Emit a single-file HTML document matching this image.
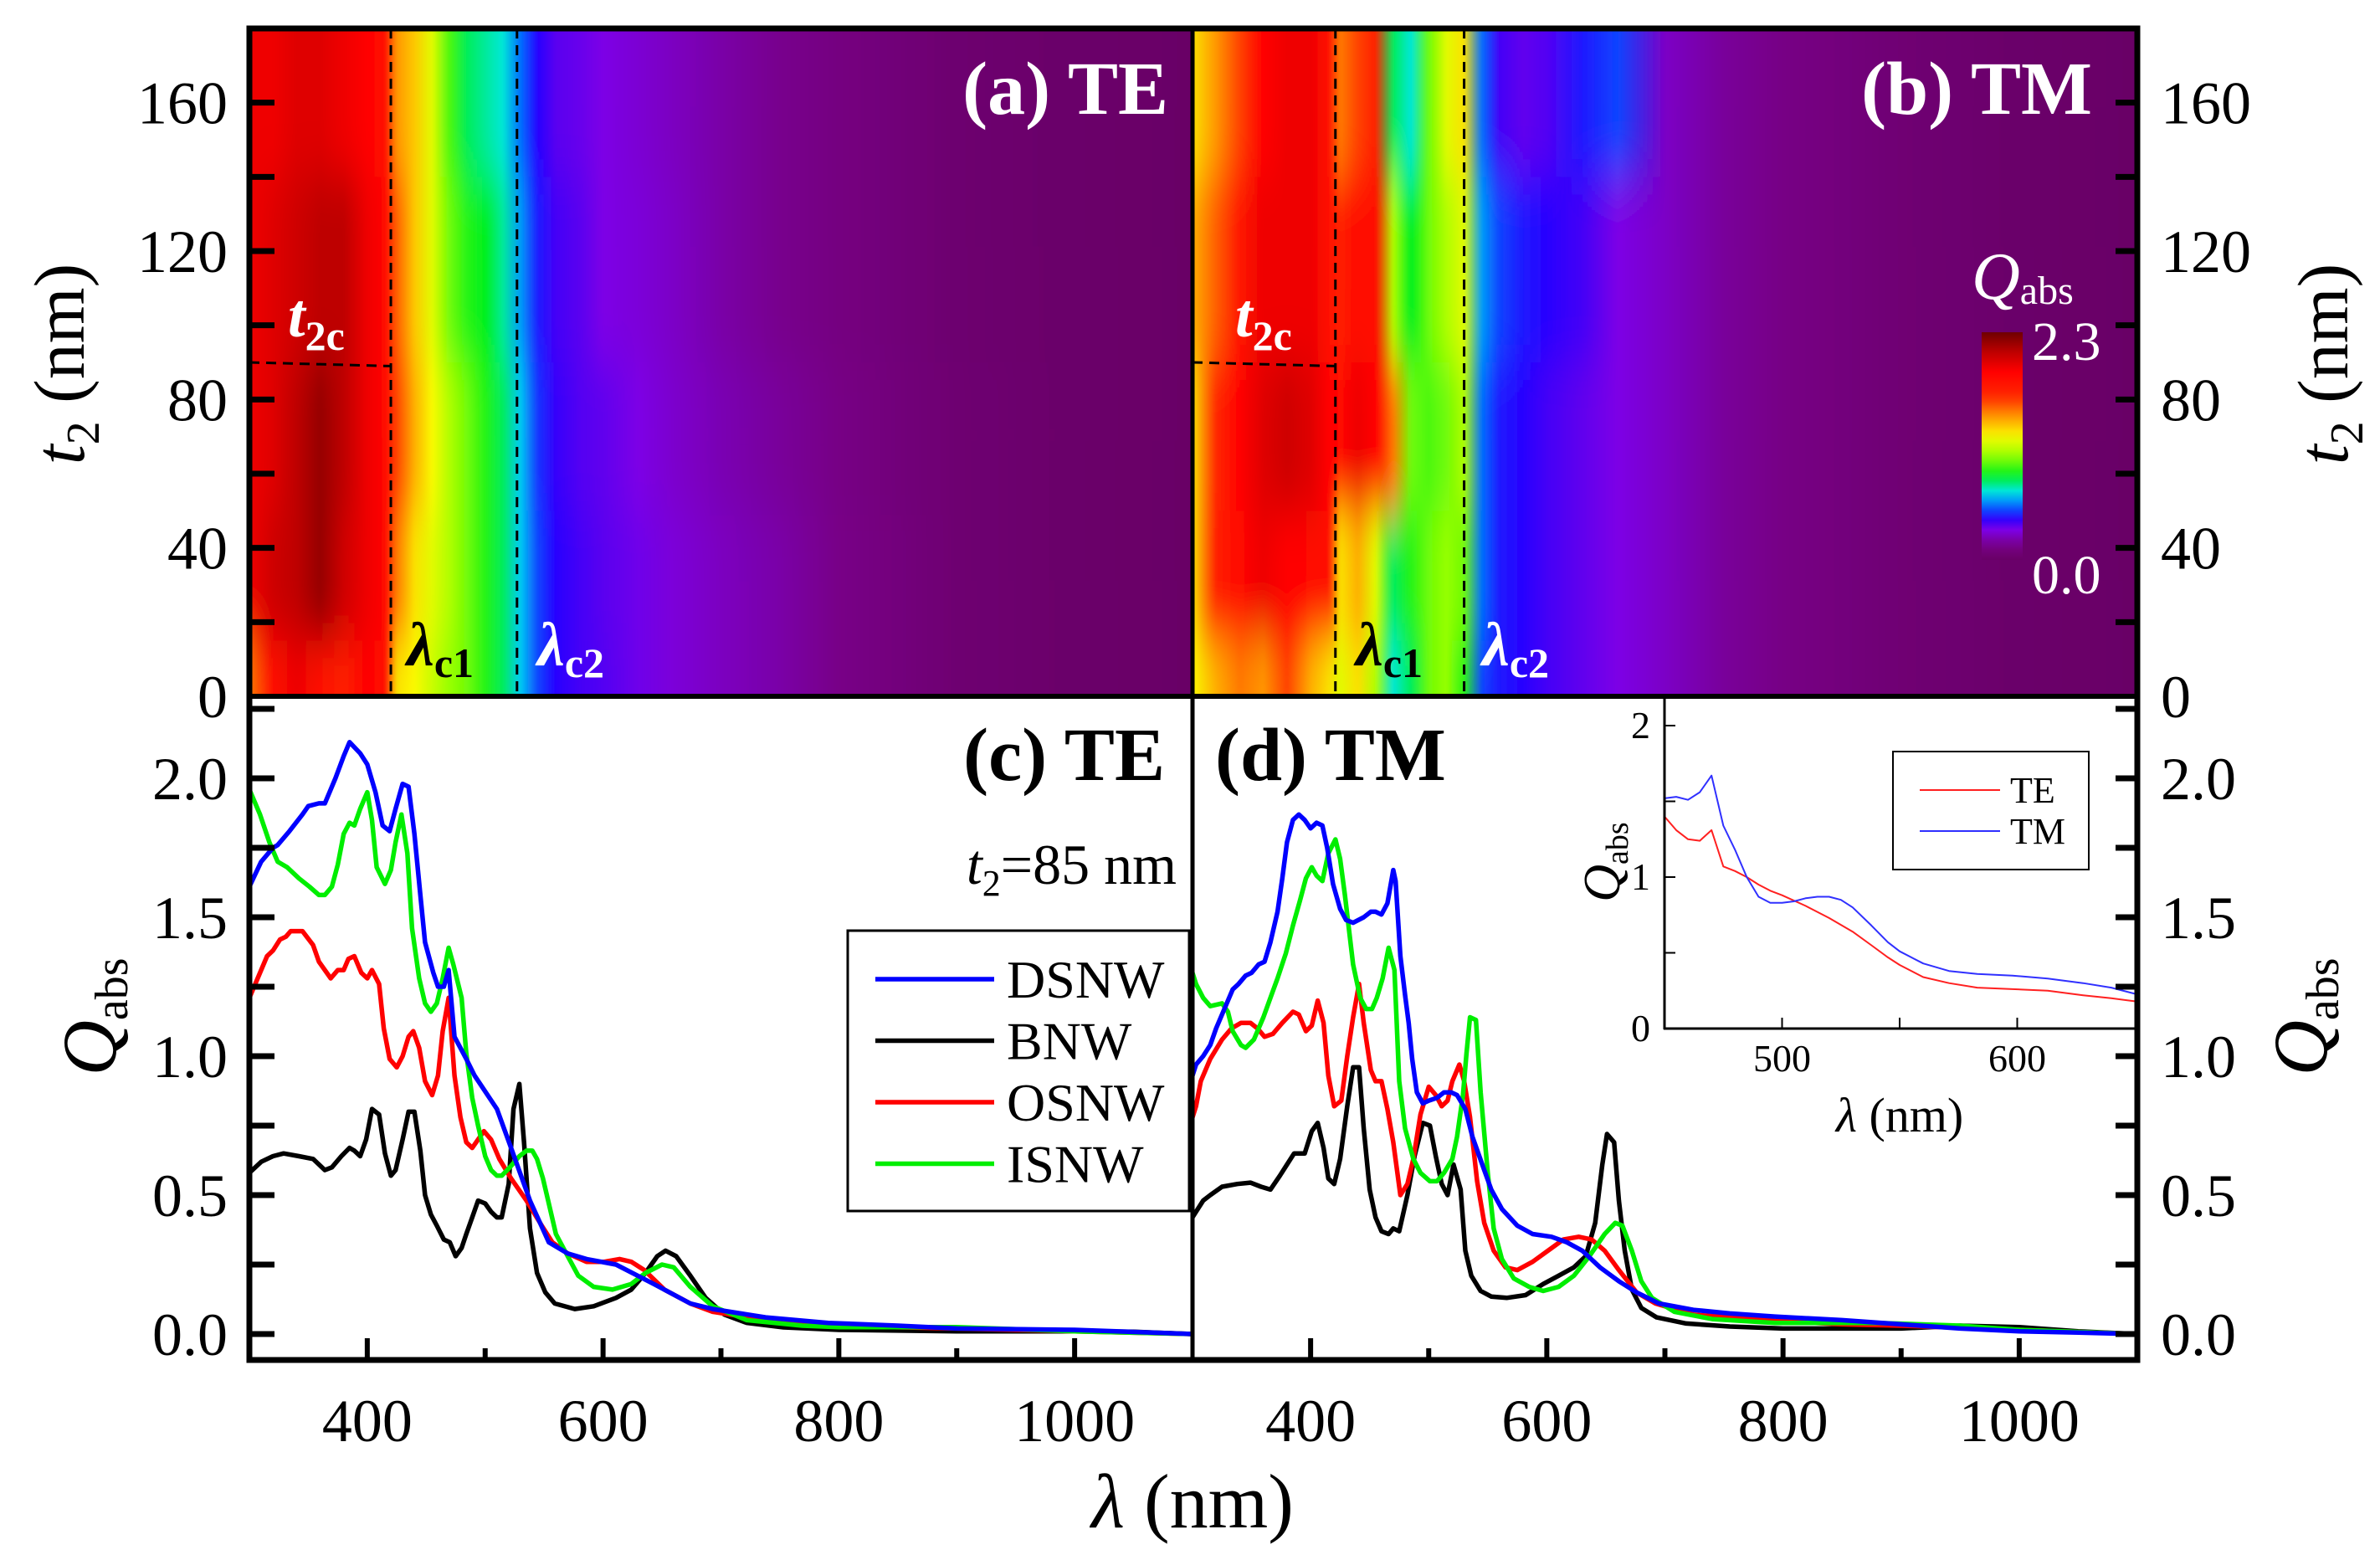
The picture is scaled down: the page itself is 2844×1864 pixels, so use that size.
<!DOCTYPE html>
<html><head><meta charset="utf-8"><style>
html,body{margin:0;padding:0;background:#fff;}
svg{display:block;}
svg text{font-family:"Liberation Serif","Times New Roman",serif;}
</style></head><body>
<svg id="fig" width="2844" height="1864" viewBox="0 0 2844 1864" xmlns="http://www.w3.org/2000/svg" font-family="Liberation Serif, serif">
<defs id="defs"></defs>
<g id="heat"></g>
<g id="lines"></g>
<g id="inset"></g>
<g id="frame"></g>
<g id="labels"></g>
</svg>
<script>
// ---------- heatmap data ----------
const heatLam = [300,320,340,360,380,400,415,425,440,455,470,485,500,515,530,545,560,580,600,630,660,700,750,800,850,900,1000,1100];
const heatTBands = [0,15,50,90,140,180];
const heatTE_r0 = [1.5,1.8,1.95,1.8,1.7,1.9,1.8,1.3,1.25,1.15,1.05,1.0,0.9,0.8,0.65,0.5,0.42,0.38,0.36,0.32,0.28,0.24,0.2,0.15,0.1,0.05,0.02,0.0];
const heatTE_r1 = [1.95,2.05,2.1,2.2,2.05,1.95,1.85,1.5,1.3,1.2,1.1,1.0,0.9,0.8,0.65,0.5,0.42,0.38,0.35,0.32,0.28,0.24,0.2,0.15,0.1,0.05,0.02,0];
const heatTE_r2 = [1.95,2.0,2.1,2.2,2.1,1.95,1.85,1.6,1.4,1.25,1.1,1.0,0.9,0.8,0.65,0.48,0.4,0.36,0.34,0.3,0.26,0.22,0.18,0.14,0.09,0.05,0.02,0];
const heatTE_r3 = [1.95,2.0,2.05,2.1,2.1,1.95,1.85,1.55,1.35,1.2,1.0,0.9,0.85,0.75,0.6,0.45,0.38,0.35,0.3,0.28,0.25,0.2,0.16,0.12,0.08,0.04,0.02,0];
const heatTE_r4 = [1.95,1.95,2.0,2.0,1.95,1.9,1.8,1.45,1.35,1.2,0.95,0.8,0.75,0.7,0.55,0.42,0.35,0.33,0.3,0.27,0.24,0.2,0.16,0.12,0.08,0.04,0.02,0];
const heatTM_r0 = [1.25,1.4,1.5,1.45,1.6,1.4,1.3,1.2,1.3,1.1,0.7,0.8,1.0,1.05,0.9,0.5,0.45,0.42,0.38,0.34,0.3,0.25,0.18,0.14,0.1,0.06,0.02,0];
const heatTM_r1 = [1.3,1.7,1.85,1.95,1.9,1.85,1.8,1.3,1.4,1.2,0.8,0.9,1.0,1.05,1.0,0.55,0.45,0.42,0.38,0.34,0.3,0.25,0.18,0.14,0.1,0.06,0.02,0];
const heatTM_r2 = [1.3,1.65,1.9,2.0,2.05,2.0,1.9,1.85,1.95,1.9,1.5,1.0,0.95,1.0,1.1,0.55,0.45,0.42,0.38,0.34,0.3,0.25,0.18,0.14,0.1,0.06,0.02,0];
const heatTM_r3 = [1.4,1.55,1.75,1.95,1.95,1.95,1.8,1.7,1.85,1.85,1.1,0.85,1.0,1.1,1.2,0.6,0.5,0.45,0.42,0.38,0.3,0.25,0.18,0.14,0.1,0.06,0.02,0];
const heatTM_r4 = [1.3,1.45,1.6,1.9,1.95,1.95,1.8,1.5,1.6,1.7,0.8,0.7,1.0,1.2,1.3,0.55,0.38,0.34,0.36,0.45,0.5,0.25,0.18,0.14,0.1,0.06,0.02,0];
const tTicks = [0,40,80,120,160];
// ---------- panel (c) TE ----------
const teLamD = [300,310,320,324,334,345,350,359,364,373,380,385,394,400,407,413,419,424,430,435,440,445,449,456,460,465,469,474,484,491,510,522,538,554,570,586,611,643,674,693,738,791,850,900,1000,1100];
const teQD = [1.61,1.70,1.75,1.76,1.81,1.87,1.90,1.91,1.91,2.0,2.08,2.13,2.09,2.05,1.95,1.83,1.81,1.89,1.98,1.97,1.80,1.58,1.41,1.30,1.25,1.25,1.31,1.07,0.99,0.93,0.81,0.67,0.48,0.33,0.29,0.27,0.25,0.18,0.11,0.09,0.06,0.04,0.03,0.02,0.015,0.0];
const teLamI = [300,309,317,324,332,342,351,359,364,370,375,380,385,389,394,400,404,408,415,420,424,429,434,438,444,449,454,459,464,469,473,480,484,489,494,500,505,510,514,521,529,535,540,544,549,554,560,570,579,592,608,624,636,650,660,674,693,722,769,800,900,1000,1100];
const teQI = [1.96,1.87,1.77,1.70,1.68,1.64,1.61,1.58,1.58,1.61,1.69,1.80,1.84,1.83,1.89,1.95,1.85,1.68,1.62,1.67,1.77,1.87,1.73,1.46,1.28,1.19,1.16,1.19,1.28,1.39,1.33,1.21,1.01,0.85,0.75,0.64,0.59,0.57,0.57,0.60,0.64,0.66,0.66,0.63,0.56,0.47,0.36,0.28,0.21,0.17,0.16,0.18,0.22,0.25,0.24,0.17,0.10,0.05,0.03,0.025,0.025,0.01,0];
const teLamO = [300,307,315,320,326,331,335,345,354,359,369,375,380,384,389,395,400,404,410,414,419,425,430,435,439,444,449,455,460,464,469,474,479,484,489,494,499,505,512,522,535,548,557,570,586,601,614,624,635,652,674,693,738,791,900,1000,1100];
const teQO = [1.21,1.28,1.36,1.38,1.42,1.43,1.45,1.45,1.40,1.34,1.28,1.31,1.31,1.35,1.36,1.30,1.28,1.31,1.26,1.10,0.99,0.96,1.00,1.07,1.09,1.03,0.91,0.86,0.93,1.09,1.21,0.93,0.78,0.69,0.67,0.70,0.73,0.70,0.63,0.56,0.48,0.39,0.33,0.29,0.26,0.26,0.27,0.26,0.23,0.16,0.11,0.08,0.05,0.03,0.02,0.01,0];
const teLamB = [300,310,320,329,342,354,364,370,378,385,389,394,399,404,410,415,420,424,430,435,440,445,449,454,459,465,470,475,480,484,489,494,500,505,510,514,520,524,529,533,538,544,551,559,576,592,611,624,636,646,653,662,674,687,703,722,753,800,900,1000,1050,1100];
const teQB = [0.58,0.62,0.64,0.65,0.64,0.63,0.59,0.60,0.64,0.67,0.66,0.64,0.70,0.81,0.79,0.65,0.57,0.59,0.70,0.80,0.80,0.66,0.50,0.43,0.39,0.34,0.33,0.28,0.31,0.36,0.42,0.48,0.47,0.44,0.42,0.42,0.54,0.81,0.90,0.69,0.38,0.22,0.15,0.11,0.09,0.10,0.13,0.16,0.22,0.28,0.30,0.28,0.21,0.13,0.07,0.04,0.024,0.015,0.01,0.01,0.008,0];
// ---------- panel (d) TM ----------
const tmLamD = [300,303,309,315,320,327,334,339,345,350,356,361,366,372,376,380,385,390,395,400,405,410,414,419,425,430,436,445,451,455,460,465,470,472,476,480,483,486,490,495,500,507,513,519,524,531,537,547,553,562,575,588,604,617,630,645,661,676,695,724,755,793,850,900,950,1000,1050,1100];
const tmQD = [0.93,0.97,1.00,1.04,1.10,1.17,1.24,1.26,1.29,1.30,1.33,1.34,1.41,1.52,1.64,1.77,1.85,1.87,1.85,1.82,1.84,1.83,1.75,1.62,1.53,1.49,1.48,1.50,1.52,1.52,1.51,1.55,1.67,1.63,1.36,1.22,1.12,0.99,0.87,0.83,0.84,0.85,0.87,0.87,0.86,0.81,0.71,0.59,0.52,0.45,0.39,0.36,0.35,0.33,0.30,0.24,0.19,0.15,0.11,0.087,0.074,0.063,0.05,0.035,0.02,0.01,0.005,0];
const tmLamI = [300,303,309,315,325,330,334,341,345,352,360,366,372,379,385,391,396,401,405,410,415,421,425,429,436,442,447,452,456,461,466,471,475,480,487,493,501,507,513,520,524,529,532,535,540,544,550,555,562,572,585,597,610,623,636,649,658,664,672,680,689,708,740,793,850,880,950,1000,1100];
const tmQI = [1.30,1.26,1.21,1.18,1.19,1.16,1.09,1.04,1.03,1.06,1.14,1.21,1.28,1.37,1.47,1.56,1.64,1.68,1.65,1.63,1.73,1.78,1.71,1.58,1.33,1.21,1.17,1.17,1.21,1.28,1.39,1.31,0.91,0.74,0.63,0.58,0.55,0.55,0.58,0.63,0.71,0.86,1.01,1.14,1.13,0.87,0.58,0.38,0.27,0.20,0.17,0.155,0.17,0.21,0.28,0.36,0.40,0.39,0.30,0.19,0.13,0.08,0.054,0.04,0.04,0.04,0.03,0.015,0];
const tmLamO = [300,303,307,315,325,333,341,349,355,361,368,376,385,390,396,401,406,411,415,420,426,431,436,441,445,451,455,460,465,470,476,482,487,493,500,506,511,516,520,526,530,535,541,547,555,565,575,588,601,614,627,638,649,661,676,692,724,793,850,900,1000,1100];
const tmQO = [0.78,0.82,0.91,0.99,1.06,1.10,1.12,1.12,1.10,1.07,1.08,1.12,1.16,1.15,1.09,1.11,1.20,1.12,0.93,0.82,0.84,1.00,1.14,1.26,1.12,0.95,0.91,0.91,0.81,0.69,0.50,0.54,0.63,0.79,0.89,0.86,0.82,0.84,0.91,0.97,0.91,0.78,0.55,0.40,0.30,0.24,0.23,0.26,0.30,0.34,0.35,0.34,0.30,0.23,0.15,0.11,0.07,0.047,0.035,0.03,0.015,0];
const tmLamB = [300,303,309,315,325,338,349,358,366,374,380,386,395,401,406,411,415,420,425,431,436,441,445,450,455,460,466,470,475,482,488,495,501,506,511,516,521,527,531,536,544,553,566,582,597,610,623,633,641,647,651,657,661,666,672,680,693,718,755,800,900,950,1000,1050,1100];
const tmQB = [0.42,0.44,0.48,0.50,0.53,0.54,0.545,0.53,0.52,0.57,0.61,0.65,0.65,0.73,0.76,0.67,0.56,0.54,0.63,0.82,0.96,0.96,0.74,0.52,0.42,0.37,0.36,0.38,0.37,0.50,0.64,0.76,0.75,0.64,0.54,0.50,0.61,0.52,0.30,0.21,0.155,0.135,0.13,0.14,0.18,0.21,0.24,0.28,0.40,0.61,0.72,0.69,0.48,0.30,0.16,0.094,0.06,0.038,0.027,0.02,0.02,0.03,0.025,0.01,0];
const qTicks = [0,0.5,1.0,1.5,2.0];
const qTickLabels = ["0.0","0.5","1.0","1.5","2.0"];
const lamTicks = [400,600,800,1000];
// ---------- inset ----------
const inLamTM = [450,455,460,465,470,475,480,485,490,495,500,505,510,515,520,525,530,538,545,550,560,571,583,598,613,628,640,650];
const inQTM = [1.52,1.53,1.51,1.56,1.67,1.34,1.18,1.0,0.87,0.83,0.83,0.84,0.86,0.87,0.87,0.85,0.80,0.68,0.57,0.51,0.43,0.38,0.36,0.35,0.33,0.30,0.27,0.23];
const inLamTE = [450,455,460,465,470,475,480,485,490,495,500,510,520,530,538,545,550,560,571,583,598,613,628,640,650];
const inQTE = [1.40,1.31,1.25,1.24,1.31,1.07,1.04,1.0,0.95,0.91,0.88,0.81,0.73,0.64,0.55,0.47,0.42,0.34,0.30,0.27,0.26,0.25,0.22,0.20,0.18];
const inQTicks = [0,1,2];
const inLamTicks = [500,600];

// ---------- geometry ----------
const XL=298, XM=1425, XR=2554, YT=34, YM=832, YB=1625;
const NS="http://www.w3.org/2000/svg";
function xA(l){return XL+(l-300)*(XM-XL)/800;}
function xB(l){return XM+(l-300)*(XR-XM)/800;}
function yT(t){return YM-t*(YM-YT)/180;}
function yQ(q){return 1594-q*332;}
function ix(l){return 1989+(l-450)*2.81;}
function iy(q){return 1229-q*181;}
function mk(tag,attrs,parent){const e=document.createElementNS(NS,tag);for(const k in attrs)e.setAttribute(k,attrs[k]);parent.appendChild(e);return e;}

const cmapStops=[[0,[105,0,102]],[0.15,[120,0,135]],[0.3,[125,0,230]],[0.42,[40,0,255]],[0.55,[0,110,255]],[0.68,[0,230,240]],[0.85,[0,240,30]],[1.05,[150,255,0]],[1.25,[250,250,0]],[1.45,[255,150,0]],[1.65,[255,40,0]],[1.9,[255,0,0]],[2.1,[190,0,0]],[2.3,[110,0,0]]];
function cmap(v){v=Math.max(0,Math.min(2.3,v));for(let i=1;i<cmapStops.length;i++){if(v<=cmapStops[i][0]){const a=cmapStops[i-1],b=cmapStops[i];const f=(v-a[0])/(b[0]-a[0]);const c=a[1].map((x,j)=>Math.round(x+(b[1][j]-x)*f));return `rgb(${c[0]},${c[1]},${c[2]})`;}}return "rgb(110,0,0)";}

const defs=document.getElementById('defs');
const heat=document.getElementById('heat');
const blur=mk('filter',{id:'vblur',filterUnits:'userSpaceOnUse',x:0,y:-300,width:2844,height:1500},defs);
mk('feGaussianBlur',{stdDeviation:'2 32'},blur);
function drawHeat(name,rows,xf){
  const cp=mk('clipPath',{id:'clip-'+name},defs);
  mk('rect',{x:xf(300),y:YT,width:xf(1100)-xf(300),height:YM-YT},cp);
  const g=mk('g',{'clip-path':`url(#clip-${name})`},heat);
  
  
  const inner=mk('g',{filter:'url(#vblur)'},g);
  rows.forEach((row,ri)=>{
    const gid='grad-'+name+ri;
    const lg=mk('linearGradient',{id:gid,gradientUnits:'userSpaceOnUse',x1:xf(300),x2:xf(1100),y1:0,y2:0},defs);
    row.forEach((v,i)=>{mk('stop',{offset:(heatLam[i]-300)/800,'stop-color':cmap(v)},lg);});
    const t0=heatTBands[ri], t1=heatTBands[ri+1];
    let ya=yT(t1), yb=yT(t0);
    if(ri===0) yb+=120; if(ri===rows.length-1) ya-=120;
    const r=mk('rect',{x:xf(300)-20,y:ya,width:xf(1100)-xf(300)+40,height:yb-ya,fill:`url(#${gid})`},inner);
    
    
  });
}
drawHeat('te',[heatTE_r0,heatTE_r1,heatTE_r2,heatTE_r3,heatTE_r4],xA);
drawHeat('tm',[heatTM_r0,heatTM_r1,heatTM_r2,heatTM_r3,heatTM_r4],xB);

[[xA,420,527],[xB,421,530]].forEach(([xf,l1,l2])=>{
  mk('line',{x1:xf(l1),y1:YT,x2:xf(l1),y2:YM,stroke:'#000','stroke-width':3,'stroke-dasharray':'12 8'},heat);
  mk('line',{x1:xf(l2),y1:YT,x2:xf(l2),y2:YM,stroke:'#000','stroke-width':3,'stroke-dasharray':'12 8'},heat);
  mk('line',{x1:xf(300),y1:yT(90),x2:xf(l1),y2:yT(89),stroke:'#000','stroke-width':3,'stroke-dasharray':'12 8'},heat);
});

const cbg=mk('linearGradient',{id:'cbar',x1:0,y1:1,x2:0,y2:0},defs);
for(let v=0;v<=2.3001;v+=0.1){mk('stop',{offset:v/2.3,'stop-color':cmap(v)},cbg);}
const cb=mk('rect',{x:2368,y:397,width:49,height:272,fill:'url(#cbar)'},heat);



const lines=document.getElementById('lines');
function series(lams,qs,xf,yf,color,w,name,parent){
  let d='';lams.forEach((l,i)=>{d+=(i?'L':'M')+xf(l).toFixed(1)+' '+yf(qs[i]).toFixed(1);});
  const p=mk('path',{d:d,fill:'none',stroke:color,'stroke-width':w,'stroke-linejoin':'round'},parent);
  
  
}
const BLUE='#0000ff',BLK='#000',RED='#ff0000',GRN='#00ee00';
series(teLamB,teQB,xA,yQ,BLK,5.5,'te-bnw-line',lines);
series(teLamO,teQO,xA,yQ,RED,5.5,'te-osnw-line',lines);
series(teLamI,teQI,xA,yQ,GRN,5.5,'te-isnw-line',lines);
series(teLamD,teQD,xA,yQ,BLUE,5.5,'te-dsnw-line',lines);
series(tmLamB,tmQB,xB,yQ,BLK,5.5,'tm-bnw-line',lines);
series(tmLamO,tmQO,xB,yQ,RED,5.5,'tm-osnw-line',lines);
series(tmLamI,tmQI,xB,yQ,GRN,5.5,'tm-isnw-line',lines);
series(tmLamD,tmQD,xB,yQ,BLUE,5.5,'tm-dsnw-line',lines);

const inset=document.getElementById('inset');
mk('rect',{x:1989,y:836,width:561,height:393,fill:'#fff'},inset);
series(inLamTE,inQTE,ix,iy,'#ff2020',2,'inset-te-line',inset);
series(inLamTM,inQTM,ix,iy,'#3030ff',2,'inset-tm-line',inset);
mk('line',{x1:1989,y1:832,x2:1989,y2:1230,stroke:'#000','stroke-width':3},inset);
mk('line',{x1:1988,y1:1229,x2:2552,y2:1229,stroke:'#000','stroke-width':3},inset);
[0.5,1,1.5,2].forEach(q=>mk('line',{x1:1989,y1:iy(q),x2:2002,y2:iy(q),stroke:'#000','stroke-width':2},inset));
[500,550,600].forEach(l=>mk('line',{x1:ix(l),y1:1229,x2:ix(l),y2:1216,stroke:'#000','stroke-width':2},inset));
inQTicks.forEach(q=>{const t=mk('text',{x:1972,y:iy(q)+15,'font-size':46,'text-anchor':'end'},inset);t.textContent=q;});
inLamTicks.forEach(l=>{const t=mk('text',{x:ix(l),y:1280,'font-size':46,'text-anchor':'middle'},inset);t.textContent=l;});

const fr=document.getElementById('frame');
mk('rect',{x:XL,y:YT,width:XR-XL,height:YB-YT,fill:'none',stroke:'#000','stroke-width':7},fr);
mk('line',{x1:XL,y1:YM,x2:XR,y2:YM,stroke:'#000','stroke-width':6},fr);
mk('line',{x1:XM,y1:YT,x2:XM,y2:YB,stroke:'#000','stroke-width':5},fr);
for(let t=20;t<=160;t+=20){
  mk('line',{x1:XL,y1:yT(t),x2:XL+30,y2:yT(t),stroke:'#000','stroke-width':7},fr);
  mk('line',{x1:XR,y1:yT(t),x2:XR-26,y2:yT(t),stroke:'#000','stroke-width':7},fr);
}
for(let q=0;q<=2.26;q+=0.25){
  mk('line',{x1:XL,y1:yQ(q),x2:XL+30,y2:yQ(q),stroke:'#000','stroke-width':7},fr);
  mk('line',{x1:XR,y1:yQ(q),x2:XR-26,y2:yQ(q),stroke:'#000','stroke-width':7},fr);
}
for(let l=400;l<=1000;l+=100){
  const len=(l%200===0)?26:14;
  mk('line',{x1:xA(l),y1:YB,x2:xA(l),y2:YB-len,stroke:'#000','stroke-width':6},fr);
  mk('line',{x1:xB(l),y1:YB,x2:xB(l),y2:YB-len,stroke:'#000','stroke-width':6},fr);
}
</script>
<script>
const L=document.getElementById('labels');
function txt(x,y,str,opt,name){const t=document.createElementNS("http://www.w3.org/2000/svg",'text');t.setAttribute('x',x);t.setAttribute('y',y);t.setAttribute('font-family','Liberation Serif, serif');for(const k in opt)t.setAttribute(k,opt[k]);t.innerHTML=str;L.appendChild(t);return t;}
tTicks.forEach(t=>{txt(272,yT(t)+25,String(t),{'font-size':72,'text-anchor':'end'},'left-t2-tick-label');txt(2582,yT(t)+25,String(t),{'font-size':72},'right-t2-tick-label');});
qTicks.forEach((q,i)=>{txt(272,yQ(q)+25,qTickLabels[i],{'font-size':72,'text-anchor':'end'},'left-q-tick-label');txt(2582,yQ(q)+25,qTickLabels[i],{'font-size':72},'right-q-tick-label');});
lamTicks.forEach(l=>{txt(xA(l),1722,String(l),{'font-size':72,'text-anchor':'middle'},'x-tick-label-c');txt(xB(l),1722,String(l),{'font-size':72,'text-anchor':'middle'},'x-tick-label-d');});
txt(1425,1825,'<tspan font-style="italic">λ</tspan> (nm)',{'font-size':92,'text-anchor':'middle'},'x-axis-title');
txt(0,0,'<tspan font-style="italic">t</tspan><tspan font-size="56" dy="18">2</tspan><tspan dy="-18"> (nm)</tspan>',{'font-size':86,'text-anchor':'middle',transform:'translate(100,435) rotate(-90)'},'left-t2-axis-title');
txt(0,0,'<tspan font-style="italic">t</tspan><tspan font-size="56" dy="18">2</tspan><tspan dy="-18"> (nm)</tspan>',{'font-size':86,'text-anchor':'middle',transform:'translate(2805,435) rotate(-90)'},'right-t2-axis-title');
txt(0,0,'<tspan font-style="italic">Q</tspan><tspan font-size="56" dy="14">abs</tspan>',{'font-size':92,'text-anchor':'middle',transform:'translate(138,1215) rotate(-90)'},'left-q-axis-title');
txt(0,0,'<tspan font-style="italic">Q</tspan><tspan font-size="56" dy="14">abs</tspan>',{'font-size':92,'text-anchor':'middle',transform:'translate(2780,1215) rotate(-90)'},'right-q-axis-title');
txt(1396,136,'(a) TE',{'font-size':90,'font-weight':'bold','text-anchor':'end',fill:'#fff'},'panel-a-label');
txt(2500,136,'(b) TM',{'font-size':90,'font-weight':'bold','text-anchor':'end',fill:'#fff'},'panel-b-label');
txt(1392,932,'(c) TE',{'font-size':90,'font-weight':'bold','text-anchor':'end'},'panel-c-label');
txt(1452,932,'(d) TM',{'font-size':90,'font-weight':'bold'},'panel-d-label');
txt(1406,1056,'<tspan font-style="italic">t</tspan><tspan font-size="44" dy="14">2</tspan><tspan dy="-14">=85 nm</tspan>',{'font-size':68,'text-anchor':'end'},'t2-annotation');
txt(344,402,'<tspan font-style="italic">t</tspan><tspan font-size="50" dy="16">2c</tspan>',{'font-size':74,'font-weight':'bold',fill:'#fff'},'t2c-label-a');
txt(1476,402,'<tspan font-style="italic">t</tspan><tspan font-size="50" dy="16">2c</tspan>',{'font-size':74,'font-weight':'bold',fill:'#fff'},'t2c-label-b');
txt(486,795,'<tspan font-style="italic">λ</tspan><tspan font-size="50" dy="14">c1</tspan>',{'font-size':74,'font-weight':'bold',fill:'#000'},'lambda-c1-label-a');
txt(642,795,'<tspan font-style="italic">λ</tspan><tspan font-size="50" dy="14">c2</tspan>',{'font-size':74,'font-weight':'bold',fill:'#fff'},'lambda-c2-label-a');
txt(1620,795,'<tspan font-style="italic">λ</tspan><tspan font-size="50" dy="14">c1</tspan>',{'font-size':74,'font-weight':'bold',fill:'#000'},'lambda-c1-label-b');
txt(1771,795,'<tspan font-style="italic">λ</tspan><tspan font-size="50" dy="14">c2</tspan>',{'font-size':74,'font-weight':'bold',fill:'#fff'},'lambda-c2-label-b');
txt(2356,357,'<tspan font-style="italic">Q</tspan><tspan font-size="48" dy="6">abs</tspan>',{'font-size':80,fill:'#fff'},'colorbar-title');
txt(2428,430,'2.3',{'font-size':66,fill:'#fff'},'colorbar-max-label');
txt(2428,709,'0.0',{'font-size':66,fill:'#fff'},'colorbar-min-label');
const NSX="http://www.w3.org/2000/svg";
const lg=document.createElementNS(NSX,'g');L.appendChild(lg);
const box=document.createElementNS(NSX,'rect');box.setAttribute('x',1013);box.setAttribute('y',1112);box.setAttribute('width',408);box.setAttribute('height',335);box.setAttribute('fill','#fff');box.setAttribute('stroke','#000');box.setAttribute('stroke-width',3);lg.appendChild(box);
const legNames=['DSNW','BNW','OSNW','ISNW'];const legCols=['#0000ff','#000','#ff0000','#00ee00'];
legNames.forEach((n,i)=>{const y=1170+i*73.5;
 const ln=document.createElementNS(NSX,'line');ln.setAttribute('x1',1046);ln.setAttribute('x2',1188);ln.setAttribute('y1',y);ln.setAttribute('y2',y);ln.setAttribute('stroke',legCols[i]);ln.setAttribute('stroke-width',5.5);lg.appendChild(ln);
 const t=document.createElementNS(NSX,'text');t.setAttribute('x',1203);t.setAttribute('y',y+22);t.setAttribute('font-size',64);t.setAttribute('font-family','Liberation Serif, serif');t.textContent=n;lg.appendChild(t);});
const ib=document.createElementNS(NSX,'rect');ib.setAttribute('x',2262);ib.setAttribute('y',898);ib.setAttribute('width',234);ib.setAttribute('height',141);ib.setAttribute('fill','#fff');ib.setAttribute('stroke','#000');ib.setAttribute('stroke-width',2);L.appendChild(ib);
[['TE','#ff2020',944],['TM','#3030ff',993]].forEach(([n,c,y])=>{
 const ln=document.createElementNS(NSX,'line');ln.setAttribute('x1',2294);ln.setAttribute('x2',2390);ln.setAttribute('y1',y);ln.setAttribute('y2',y);ln.setAttribute('stroke',c);ln.setAttribute('stroke-width',2);L.appendChild(ln);
 const t=document.createElementNS(NSX,'text');t.setAttribute('x',2402);t.setAttribute('y',y+15);t.setAttribute('font-size',44);t.setAttribute('font-family','Liberation Serif, serif');t.textContent=n;L.appendChild(t);});
txt(2270,1352,'<tspan font-style="italic">λ</tspan> (nm)',{'font-size':58,'text-anchor':'middle'},'inset-x-axis-title');
txt(0,0,'<tspan font-style="italic">Q</tspan><tspan font-size="38" dy="10">abs</tspan>',{'font-size':62,'text-anchor':'middle',transform:'translate(1935,1030) rotate(-90)'},'inset-y-axis-title');
</script>
</body></html>
